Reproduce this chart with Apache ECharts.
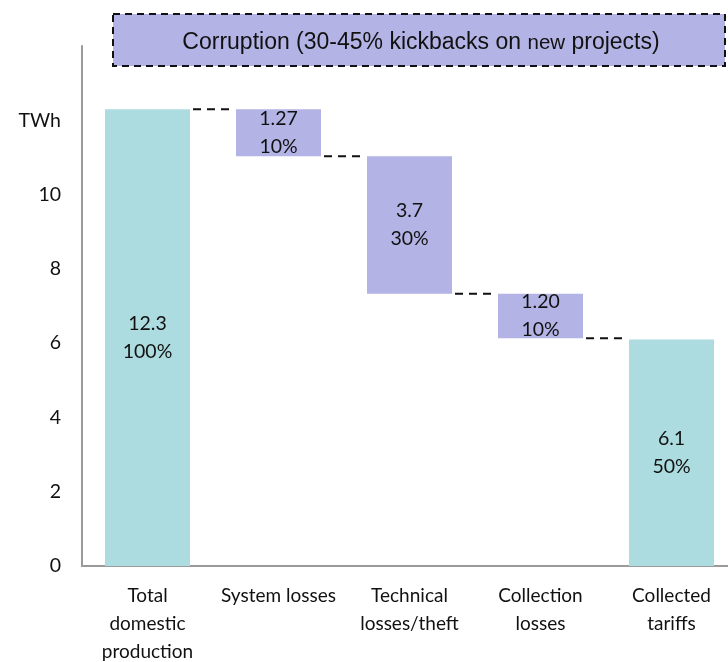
<!DOCTYPE html>
<html>
<head>
<meta charset="utf-8">
<script src="https://cdn.jsdelivr.net/npm/echarts@6/dist/echarts.min.js"></script>
<style>
  html, body { margin: 0; padding: 0; background: #fff; }
  #chart { width: 728px; height: 662px; }
</style>
</head>
<body>
<div id="chart"></div>
<script>
// Electricity flow, TWh: from domestic production down to collected tariffs
const categories = ['Total\ndomestic\nproduction', 'System losses', 'Technical\nlosses/theft', 'Collection\nlosses', 'Collected\ntariffs'];
const valueLabels = ['12.3', '1.27', '3.7', '1.20', '6.1'];
const shareLabels = ['100%', '10%', '30%', '10%', '50%'];
const isTotal = [true, false, false, false, true];
const yTicks = { 12: 'TWh', 14: '' };
const bannerText = ['Corruption (30-45% kickbacks on ', 'new', ' projects)'];

const values = valueLabels.map(Number);

// Invisible base under each loss step, and the level each connector sits at
const bases = [];
const levels = [];
let running = 0;
values.forEach((v, i) => {
  if (isTotal[i]) {
    bases.push(0);
    running = v;
  } else {
    running = +(running - v).toFixed(4);
    bases.push(running);
  }
  levels.push(isTotal[i] ? v : running);
});
const connectors = levels.slice(0, -1).map((lv, i) => [i, lv]);

const TEAL = '#ACDCDF';
const PURPLE = '#B3B3E5';
const FONT = 'Lato';
const BAR_W = 85;

const chart = echarts.init(document.getElementById('chart'));
chart.setOption({
  animation: false,
  grid: {
    left: 82, top: 46, width: 655, height: 520,
    containLabel: false, outerBoundsMode: 'none'
  },
  xAxis: {
    type: 'category',
    data: categories,
    axisLine: { lineStyle: { color: '#9a9a9a', width: 2 } },
    axisTick: { show: false },
    axisLabel: {
      interval: 0, margin: 16, color: '#111', fontFamily: FONT, fontSize: 19, lineHeight: 28
    }
  },
  yAxis: {
    type: 'value',
    min: 0, max: 14, interval: 2,
    axisLine: { show: true, lineStyle: { color: '#9a9a9a', width: 2 } },
    axisTick: { show: false },
    splitLine: { show: false },
    axisLabel: {
      margin: 21, color: '#111', fontFamily: FONT, fontSize: 19.5,
      formatter: v => (v in yTicks ? yTicks[v] : String(v))
    }
  },
  series: [
    {
      type: 'bar', stack: 'flow', barWidth: BAR_W, silent: true,
      itemStyle: { color: 'transparent' },
      data: bases
    },
    {
      type: 'bar', stack: 'flow', barWidth: BAR_W,
      data: values.map((v, i) => ({
        value: v,
        itemStyle: { color: isTotal[i] ? TEAL : PURPLE }
      })),
      label: {
        show: true, position: 'inside', color: '#111',
        fontFamily: FONT, fontSize: 19.5, lineHeight: 28,
        formatter: p => valueLabels[p.dataIndex] + '\n' + shareLabels[p.dataIndex]
      }
    },
    {
      type: 'custom', silent: true, z: 5,
      data: connectors,
      renderItem: (params, api) => {
        const p = api.coord([api.value(0), api.value(1)]);
        const band = api.size([1, 0])[0];
        const x1 = p[0] + BAR_W / 2 + 3;
        const x2 = p[0] + band - BAR_W / 2 - 3;
        return {
          type: 'line',
          shape: { x1: x1, y1: p[1], x2: x2, y2: p[1] },
          style: { stroke: '#111', lineWidth: 2, lineDash: [8, 6] }
        };
      }
    }
  ],
  graphic: [
    {
      type: 'rect', z: 10,
      shape: { x: 113, y: 14, width: 612, height: 52 },
      style: { fill: PURPLE, stroke: '#111', lineWidth: 2, lineDash: [7, 5] }
    },
    {
      type: 'text', z: 11,
      style: {
        x: 421, y: 43,
        text: '{a|' + bannerText[0] + '}{b|' + bannerText[1] + '}{a|' + bannerText[2] + '}',
        align: 'center', verticalAlign: 'middle',
        rich: {
          a: { fontFamily: 'Liberation Sans', fontSize: 23, fill: '#111' },
          b: { fontFamily: 'Liberation Sans', fontSize: 20.5, fill: '#111' }
        }
      }
    }
  ]
});
</script>
</body>
</html>
